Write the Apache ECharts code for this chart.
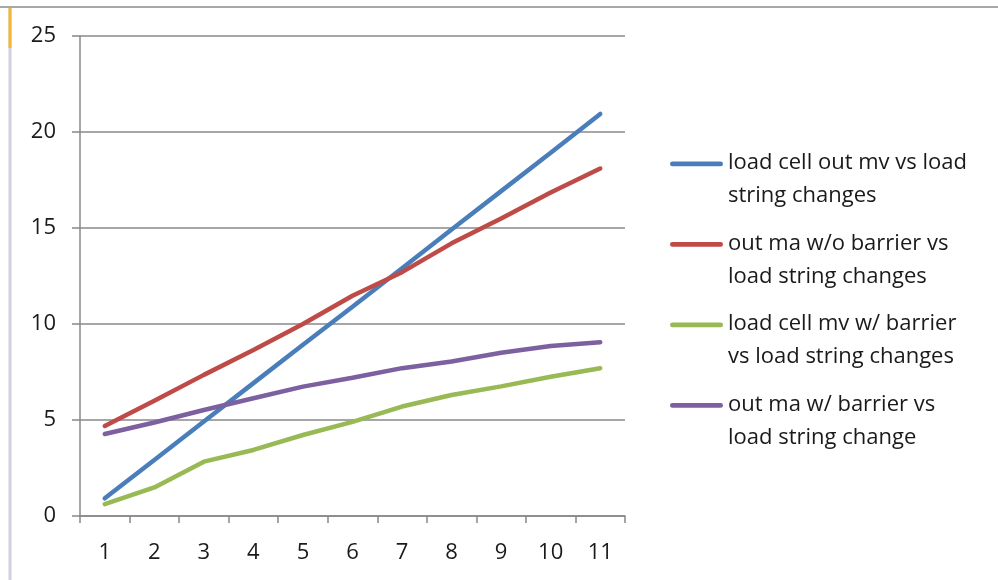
<!DOCTYPE html>
<html><head><meta charset="utf-8">
<script src="https://cdn.jsdelivr.net/npm/echarts@6/dist/echarts.min.js"></script>
<style>html,body{margin:0;padding:0;background:#fff}#c{width:998px;height:580px}</style>
</head><body><div id="c"></div>
<script>
const categories = ['1','2','3','4','5','6','7','8','9','10','11'];
const seriesNames = [
  'load cell out mv vs load\nstring changes',
  'out ma w/o barrier vs\nload string changes',
  'load cell mv w/ barrier\nvs load string changes',
  'out ma w/ barrier vs\nload string change'
];
const blueValues   = [0.92, 2.92, 4.92, 6.92, 8.92, 10.9, 12.9, 14.92, 16.92, 18.92, 20.94];
const redValues    = [4.69, 6.0, 7.35, 8.65, 10.0, 11.47, 12.7, 14.2, 15.5, 16.85, 18.1];
const greenValues  = [0.62, 1.49, 2.83, 3.44, 4.22, 4.9, 5.7, 6.3, 6.75, 7.25, 7.7];
const purpleValues = [4.27, 4.87, 5.52, 6.13, 6.74, 7.2, 7.7, 8.05, 8.5, 8.85, 9.05];
const yTicks = [0, 5, 10, 15, 20, 25];

const colors = ['#4A7EBB', '#BE4B48', '#98B954', '#7D60A0'];
const values = [blueValues, redValues, greenValues, purpleValues];
const font = 'Open Sans';

// legend icon: bar aligned with the first text line inside a two-line-tall box
const legendIcon = 'path://M0,0L0,0M1,14L52,14A2.5,2.5,0,0,1,52,19L1,19A2.5,2.5,0,0,1,1,14ZM53,66L53,66';

const chart = echarts.init(document.getElementById('c'), null, {renderer: 'canvas'});
chart.setOption({
  animation: false,
  color: colors,
  grid: {left: 80, right: 373, top: 36, bottom: 64, containLabel: false},
  xAxis: {
    type: 'category', data: categories, boundaryGap: true,
    axisLine: {lineStyle: {color: '#888', width: 1.5}},
    axisTick: {show: true, length: 7, lineStyle: {color: '#888', width: 1.5}},
    axisLabel: {margin: 26, fontSize: 22, color: '#1a1a1a', fontFamily: font}
  },
  yAxis: {
    type: 'value', min: yTicks[0], max: yTicks[yTicks.length-1], interval: 5,
    axisLine: {show: true, lineStyle: {color: '#888', width: 1.5}},
    axisTick: {show: true, length: 8, lineStyle: {color: '#888', width: 1.5}},
    axisLabel: {margin: 24, fontSize: 22, color: '#1a1a1a', fontFamily: font},
    splitLine: {lineStyle: {color: '#888', width: 1.5}}
  },
  legend: {
    orient: 'vertical', left: 665, top: 141.5, itemWidth: 53, itemHeight: 66, itemGap: 14.5,
    icon: legendIcon,
    textStyle: {fontSize: 22, color: '#1a1a1a', fontFamily: font, lineHeight: 33},
    data: seriesNames
  },
  series: values.map((v, i) => ({
    name: seriesNames[i], type: 'line', data: v, showSymbol: false, symbol: 'none',
    lineStyle: {width: 4.5, color: colors[i], cap: 'round'}
  })),
  graphic: [
    {type: 'line', shape: {x1: 0, y1: 7, x2: 998, y2: 7}, style: {stroke: '#a8a8a8', lineWidth: 2}},
    {type: 'line', shape: {x1: 10, y1: 8, x2: 10, y2: 580}, style: {stroke: '#cfd2dc', lineWidth: 3}},
    {type: 'line', shape: {x1: 10, y1: 8, x2: 10, y2: 48}, style: {stroke: '#f2b632', lineWidth: 3}}
  ]
});
</script></body></html>
